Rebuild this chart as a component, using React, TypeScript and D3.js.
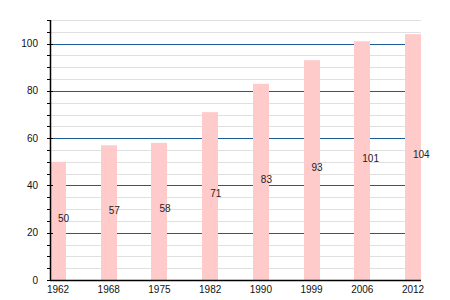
import React from "react";
import * as d3 from "d3";

const years = ["1962", "1968", "1975", "1982", "1990", "1999", "2006", "2012"];
const values = [50, 57, 58, 71, 83, 93, 101, 104];
const majorTicks = [0, 20, 40, 60, 80, 100];

const W = 450, H = 300;
const left = 50, right = 421, top = 20, bottom = 280;
const barW = 16;

export default function App() {
  const y = d3.scaleLinear().domain([0, 110]).range([bottom, top]);
  const yc = (v: number) => Math.round(y(v)) + 0.5;
  const x = d3.scalePoint<string>().domain(years).range([left + barW / 2, right - barW / 2]);
  const minor = d3.range(5, 111, 5).filter((v) => v % 20 !== 0);
  const font = "'Liberation Sans', Arial, sans-serif";
  return (
    <svg width={W} height={H} style={{ position: "absolute", left: 0, top: 0 }} fontFamily={font}>
      {minor.map((v) => (
        <g key={"m" + v}>
          <line x1={left} x2={right} y1={yc(v)} y2={yc(v)} stroke="#e0e0e0" strokeWidth={1} />
          <line x1={left - 3} x2={left} y1={yc(v)} y2={yc(v)} stroke="#000" strokeWidth={1} />
        </g>
      ))}
      {majorTicks.filter((v) => v > 0).map((v) => (
        <line key={"g" + v} x1={left} x2={right} y1={yc(v)} y2={yc(v)} stroke="#1c5c98" strokeWidth={1} />
      ))}
      {values.map((v, i) => (
        <rect key={"b" + i} x={Math.round((x(years[i]) as number) - barW / 2)} y={y(v)} width={barW} height={bottom - y(v)} fill="#ffcaca" />
      ))}
      {majorTicks.map((v) => (
        <g key={"t" + v}>
          <line x1={left - 3} x2={left + 3} y1={yc(v)} y2={yc(v)} stroke="#000" strokeWidth={1} />
          <text x={38} y={y(v)} dy="0.35em" textAnchor="end" fontSize={10} fill="#111">{v}</text>
        </g>
      ))}
      <line x1={left + 0.5} x2={left + 0.5} y1={top} y2={bottom} stroke="#000" strokeWidth={1.5} />
      <line x1={left} x2={right} y1={bottom + 0.5} y2={bottom + 0.5} stroke="#000" strokeWidth={1.5} />
      {years.map((yr) => (
        <text key={"x" + yr} x={x(yr) as number} y={bottom + 13} textAnchor="middle" fontSize={10} fill="#111">{yr}</text>
      ))}
      {values.map((v, i) => (
        <text key={"l" + i} x={x(years[i]) as number} y={y(v / 2) + 1} fontSize={10} fill="#222">{v}</text>
      ))}
    </svg>
  );
}
